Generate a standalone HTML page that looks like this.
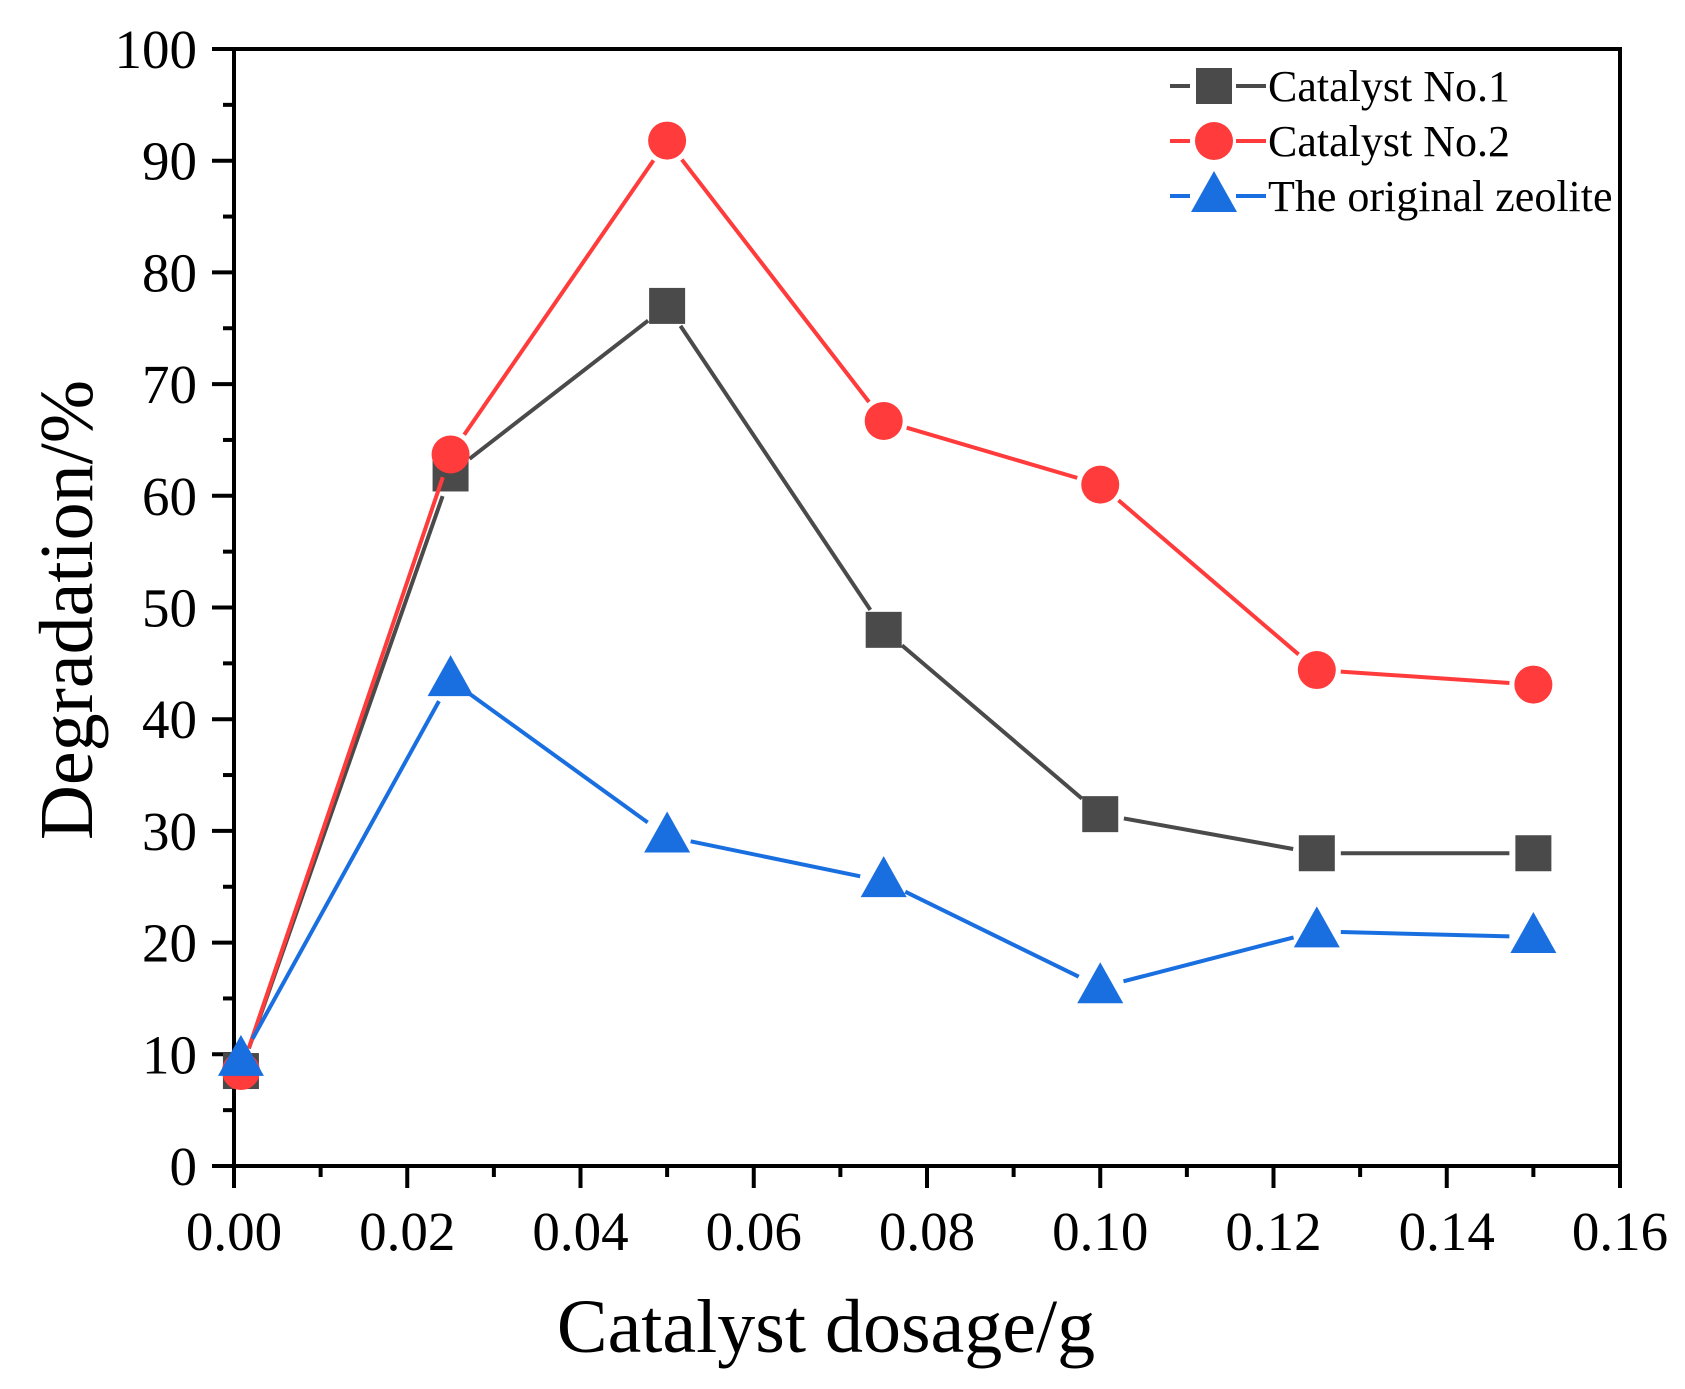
<!DOCTYPE html>
<html><head><meta charset="utf-8"><style>
body{margin:0;background:#fff}
svg{display:block;font-family:"Liberation Serif",serif}
</style></head><body>
<svg id="c" width="1685" height="1389" viewBox="0 0 1685 1389">
<g id="plot"></g>
</svg>
<script>
const xValues=[0.0008,0.025,0.05,0.075,0.1,0.125,0.15];
const cat1=[8.5,62,77,48,31.5,28,28];
const cat2=[8.5,63.7,91.8,66.7,61,44.4,43.1];
const zeolite=[9.5,43.5,29.5,25.5,16,21,20.5];
const xTicks=["0.00","0.02","0.04","0.06","0.08","0.10","0.12","0.14","0.16"];
const yTicks=["0","10","20","30","40","50","60","70","80","90","100"];
const seriesNames=["Catalyst No.1","Catalyst No.2","The original zeolite"];

const NS="http://www.w3.org/2000/svg";
const L=234,R=1620,T=49,B=1166;
const sx=v=>L+(v/0.16)*(R-L);
const sy=v=>B-(v/100)*(B-T);
const g=document.getElementById('plot');
function mk(tag,at,parent){const e=document.createElementNS(NS,tag);for(const k in at)e.setAttribute(k,at[k]);(parent||g).appendChild(e);return e;}

let frame=mk('rect',{x:L,y:T,width:R-L,height:B-T,fill:'none',stroke:'#000','stroke-width':4});



for(let i=0;i<=16;i++){
  const v=i*0.01,x=sx(v),major=i%2===0;
  let t=mk('line',{x1:x,y1:B,x2:x,y2:B+(major?22:11),stroke:'#000','stroke-width':4});
  
  
  if(major){
    let tx=mk('text',{x:x,y:B+84,'font-size':55,'text-anchor':'middle'});
    tx.textContent=xTicks[i/2];
    
    
  }
}
for(let i=0;i<=20;i++){
  const v=i*5,y=sy(v),major=i%2===0;
  let t=mk('line',{x1:L,y1:y,x2:L-(major?22:11),y2:y,stroke:'#000','stroke-width':4});
  
  
  if(major){
    let tx=mk('text',{x:197,y:y+19,'font-size':55,'text-anchor':'end'});
    tx.textContent=yTicks[i/2];
    
    
  }
}
let xt=mk('text',{x:826,y:1352,'font-size':76,'text-anchor':'middle'});
xt.textContent='Catalyst dosage/g';


let yt=mk('text',{x:0,y:0,'font-size':76,'text-anchor':'middle',transform:'translate(92,610) rotate(-90)'});
yt.textContent='Degradation/%';



function marker(type,x,y,color,parent){
  let e;
  if(type==='sq') e=mk('rect',{x:x-18,y:y-18,width:36,height:36,fill:color},parent);
  else if(type==='ci') e=mk('circle',{cx:x,cy:y,r:19,fill:color},parent);
  else e=mk('polygon',{points:`${x},${y-25} ${x-23},${y+16} ${x+23},${y+16}`,fill:color},parent);
  return e;
}
const series=[[cat1,'#4a4a4a','sq'],[cat2,'#ff3b3b','ci'],[zeolite,'#1a6fe0','tr']];
series.forEach(([d,col,type],si)=>{
  const sg=mk('g',{});
  
  
  const gap=24;
  for(let i=0;i<d.length-1;i++){
    const x1=sx(xValues[i]),y1=sy(d[i]),x2=sx(xValues[i+1]),y2=sy(d[i+1]);
    const len=Math.hypot(x2-x1,y2-y1),ux=(x2-x1)/len,uy=(y2-y1)/len;
    let ln=mk('line',{x1:x1+ux*gap,y1:y1+uy*gap,x2:x2-ux*gap,y2:y2-uy*gap,stroke:col,'stroke-width':4},sg);
    
    
  }
  d.forEach((v,i)=>{
    let m=marker(type,sx(xValues[i]),sy(v),col,sg);
    
    
  });
});
const lg=mk('g',{});


series.forEach(([d,col,type],i)=>{
  const y=86+i*55;
  const eg=mk('g',{},lg);
  
  
  mk('line',{x1:1170,y1:y,x2:1190,y2:y,stroke:col,'stroke-width':4},eg);
  mk('line',{x1:1236,y1:y,x2:1266,y2:y,stroke:col,'stroke-width':4},eg);
  marker(type,1214,y,col,eg);
  let t=mk('text',{x:1268,y:y+15,'font-size':44},eg);
  t.textContent=seriesNames[i];
});
</script>
</body></html>
